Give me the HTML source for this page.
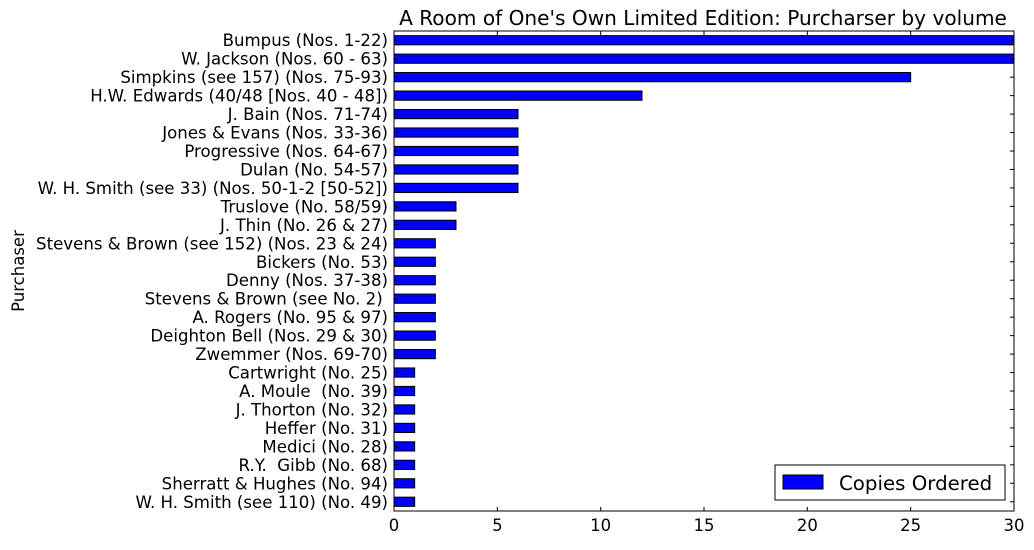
<!DOCTYPE html>
<html><head><meta charset="utf-8"><style>
body{margin:0;background:#fff;}
svg text{font-family:"DejaVu Sans","Liberation Sans",sans-serif;fill:#000;white-space:pre;}
</style></head><body>
<svg id="chart" width="1034" height="545" xmlns="http://www.w3.org/2000/svg" xml:space="preserve">
<text x="703" y="25" font-size="20.1" text-anchor="middle">A Room of One's Own Limited Edition: Purcharser by volume</text>
<text x="0" y="0" font-size="16.5" text-anchor="middle" transform="translate(24,271) rotate(-90)">Purchaser</text>
<g id="bars"></g>
<g id="ticks"></g>
<rect x="394" y="31" width="620" height="480" fill="none" stroke="#000" stroke-width="1"/>
<g>
<rect x="775" y="465" width="230" height="35" fill="#fff" stroke="#000" stroke-width="1"/>
<rect x="783" y="475" width="40" height="14" fill="#0000ff" stroke="#000"/>
<text x="839" y="490" font-size="19.8">Copies Ordered</text>
</g>
</svg>
<script>
const categories=["Bumpus (Nos. 1-22)","W. Jackson (Nos. 60 - 63)","Simpkins (see 157) (Nos. 75-93)","H.W. Edwards (40/48 [Nos. 40 - 48])","J. Bain (Nos. 71-74)","Jones & Evans (Nos. 33-36)","Progressive (Nos. 64-67)","Dulan (No. 54-57)","W. H. Smith (see 33) (Nos. 50-1-2 [50-52])","Truslove (No. 58/59)","J. Thin (No. 26 & 27)","Stevens & Brown (see 152) (Nos. 23 & 24)","Bickers (No. 53)","Denny (Nos. 37-38)","Stevens & Brown (see No. 2) ","A. Rogers (No. 95 & 97)","Deighton Bell (Nos. 29 & 30)","Zwemmer (Nos. 69-70)","Cartwright (No. 25)","A. Moule  (No. 39)","J. Thorton (No. 32)","Heffer (No. 31)","Medici (No. 28)","R.Y.  Gibb (No. 68)","Sherratt & Hughes (No. 94)","W. H. Smith (see 110) (No. 49)"];
const copies=[40,35,25,12,6,6,6,6,6,3,3,2,2,2,2,2,2,2,1,1,1,1,1,1,1,1];
const xTicks=[0,5,10,15,20,25,30];
const ns="http://www.w3.org/2000/svg";
const L=394,R=1014,T=31,B=511,xMax=30;
const n=categories.length;
const step=(B-T)/n;
const xs=v=>L+(Math.min(v,xMax+1))/xMax*(R-L);
const yc=i=>T+step*(i+0.5);
const bars=document.getElementById('bars'),ticks=document.getElementById('ticks');
function mk(tag,attrs,parent){const e=document.createElementNS(ns,tag);for(const k in attrs)e.setAttribute(k,attrs[k]);parent.appendChild(e);return e;}
const clip=mk('clipPath',{id:'pc'},document.getElementById('chart'));
mk('rect',{x:L,y:T,width:R-L,height:B-T},clip);
bars.setAttribute('clip-path','url(#pc)');
categories.forEach((c,i)=>{
  const h=step*0.5;
  const r=mk('rect',{x:L,y:yc(i)-h/2,width:xs(copies[i])-L,height:h,fill:'#0000ff',stroke:'#000','stroke-width':1},bars);
  
  
  const t=mk('text',{x:L-6,y:yc(i)+6,'font-size':16.6,'text-anchor':'end'},ticks);
  t.textContent=c;
  
  
  const tl=mk('line',{x1:L,x2:L+4,y1:yc(i),y2:yc(i),stroke:'#000'},ticks);
  
  
  const tr=mk('line',{x1:R-4,x2:R,y1:yc(i),y2:yc(i),stroke:'#000'},ticks);
  
  
});
xTicks.forEach(v=>{
  const x=L+v/xMax*(R-L);
  const a=mk('line',{x1:x,x2:x,y1:B,y2:B-4,stroke:'#000'},ticks);
  
  
  const b=mk('line',{x1:x,x2:x,y1:T,y2:T+4,stroke:'#000'},ticks);
  
  
  const t=mk('text',{x:x,y:B+20,'font-size':16.5,'text-anchor':'middle'},ticks);
  t.textContent=v;
  
  
});
</script>
</body></html>
